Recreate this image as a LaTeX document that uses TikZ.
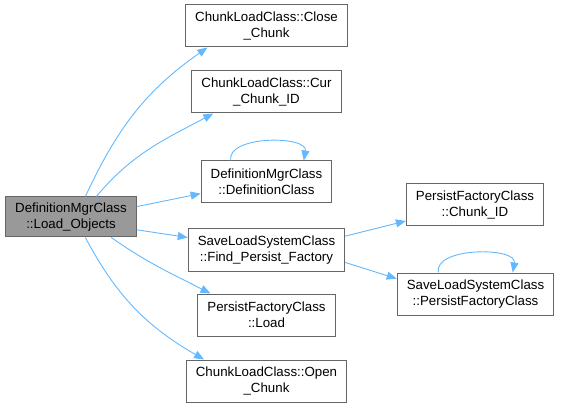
\documentclass[tikz,border=0pt]{standalone}
\usepackage{fontspec}
\setmainfont{Liberation Sans}
\usetikzlibrary{arrows.meta}
\definecolor{edgeblue}{HTML}{63B8FF}
\definecolor{boxgray}{HTML}{666666}
\definecolor{curfill}{HTML}{999999}

\begin{document}
\begin{tikzpicture}[
          x=1pt, y=-1pt,
          font=\fontsize{13.3pt}{16pt}\selectfont,
          fn/.style={draw=boxgray, line width=1pt, fill=white, align=center, inner xsep=9.5pt, inner ysep=3pt, minimum height=42pt},
          cur_fn/.style={fn, fill=curfill, minimum height=40pt},
          call/.style={draw=edgeblue, line width=0.9pt, -{Triangle[length=10pt,width=8pt]}}
      ]
          \useasboundingbox (0,0) rectangle (561,411);

          % Fungsi yang sedang dilihat
          \node[cur_fn] (load_obj) at (71,217) {DefinitionMgrClass\\::Load\_Objects};

          % Fungsi yang dipanggil langsung
          \node[fn] (close) at (266.5,26) {ChunkLoadClass::Close\\\_Chunk};
          \node[fn] (cur_id) at (266.5,92) {ChunkLoadClass::Cur\\\_Chunk\_ID};
          \node[fn] (def_class) at (266.5,182) {DefinitionMgrClass\\::DefinitionClass};
          \node[fn] (find_pf) at (266.5,250) {SaveLoadSystemClass\\::Find\_Persist\_Factory};
          \node[fn] (pf_load) at (266.5,315) {PersistFactoryClass\\::Load};
          \node[fn] (open) at (266.5,381) {ChunkLoadClass::Open\\\_Chunk};

          % Panggilan tingkat kedua
          \node[fn] (pf_id) at (475,205) {PersistFactoryClass\\::Chunk\_ID};
          \node[fn] (pf_class) at (475.5,294) {SaveLoadSystemClass\\::PersistFactoryClass};

          \draw[call] (load_obj.55) to[out=65, in=215] (close.200);
          \draw[call] (load_obj.39) to[out=50, in=208] (cur_id.202);
          \draw[call] (load_obj.9) -- (def_class.190);
          \draw[call] (load_obj.-11) -- (find_pf.171);
          \draw[call] (load_obj.-27) to[out=-35, in=153] (pf_load.159);
          \draw[call] (load_obj.-55) to[out=-62, in=150] (open.161);

          \draw[call] (def_class.149) to[out=100, in=80, looseness=0.9] (def_class.30);
          \draw[call] (find_pf.10) -- (pf_id.193);
          \draw[call] (find_pf.-9) -- (pf_class.169);
          \draw[call] (pf_class.150) to[out=100, in=80, looseness=0.9] (pf_class.30);
      \end{tikzpicture}
\end{document}
